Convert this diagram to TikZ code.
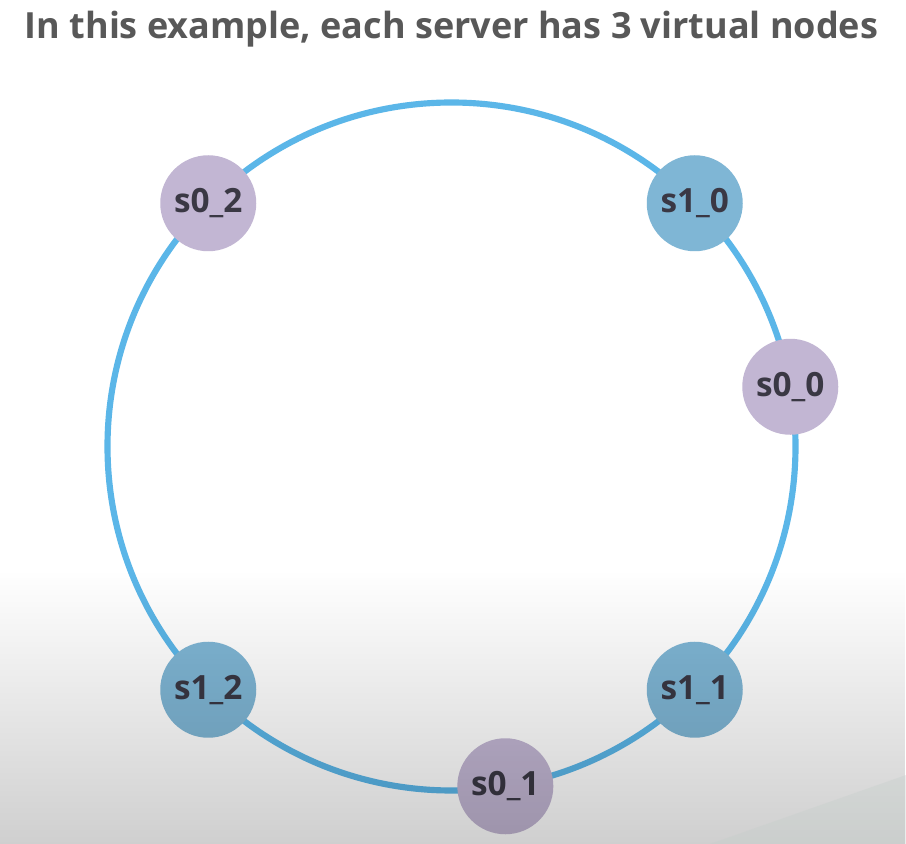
\documentclass[tikz,border=0pt]{standalone}
\usepackage{fontspec}
\setmainfont{Open Sans}
\definecolor{ringblue}{RGB}{91,182,232}
\definecolor{srvpurple}{RGB}{194,182,211}
\definecolor{srvblue}{RGB}{127,182,213}
\definecolor{labelgray}{RGB}{58,56,68}
\definecolor{titlegray}{RGB}{88,88,88}
\definecolor{floorgray}{RGB}{196,206,202}
\usetikzlibrary{calc,fadings}
\tikzfading[name=fadeup,top color=transparent!100,bottom color=transparent!0]

\begin{document}
\begin{tikzpicture}[
  vnode/.style={circle,minimum size=1.92cm,inner sep=0pt,font=\fontsize{19}{21}\selectfont\bfseries,text=labelgray},
  s0/.style={vnode,fill=srvpurple},
  s1/.style={vnode,fill=srvblue},
  ring/.style={draw=ringblue,line width=3.5pt}
]
  \useasboundingbox (0,0) rectangle (18.12,16.88);
  \fill[white] (0,0) rectangle (18.12,16.88);

  % Title
  \node[font=\fontsize{20.5}{24}\selectfont\bfseries,text=titlegray] (title) at (9.03,16.30) {In this example, each server has 3 virtual nodes};

  % Hash ring
  \coordinate (c) at (9.03,7.95);
  \draw[ring] (c) circle (6.88cm);

  % Virtual nodes of s0 and s1
  \node[s0] (s00) at ($(c)+(10:6.88)$) {s0\_0};
  \node[s1] (s10) at ($(c)+(45:6.88)$) {s1\_0};
  \node[s0] (s02) at ($(c)+(135:6.88)$) {s0\_2};
  \node[s1] (s12) at ($(c)+(-135:6.88)$) {s1\_2};
  \node[s0] (s01) at ($(c)+(-81:6.88)$) {s0\_1};
  \node[s1] (s11) at ($(c)+(-45:6.88)$) {s1\_1};

  % Floor shading
  \fill[black,opacity=0.19,path fading=fadeup] (0,0) rectangle (18.12,5.48);
  \fill[floorgray,opacity=0.35] (14.2,0) -- (18.12,1.38) -- (18.12,0) -- cycle;
\end{tikzpicture}
\end{document}
